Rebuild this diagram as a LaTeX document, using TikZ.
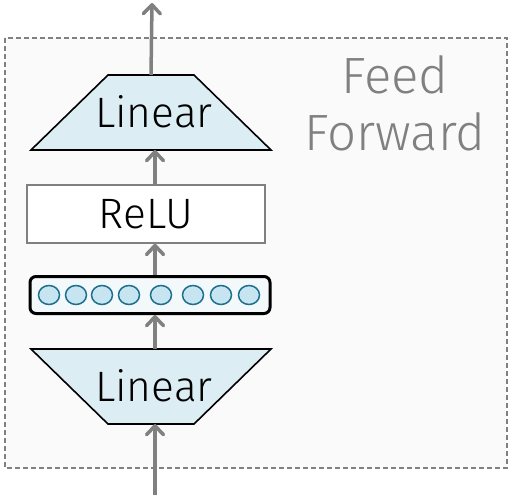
\documentclass[tikz,border=0pt]{standalone}
\usepackage{fontspec}
\setmainfont{Fira Sans}[UprightFont={* Light}]
\usetikzlibrary{arrows.meta,shapes.geometric}
\definecolor{bgc}{HTML}{FAFAFA}
\definecolor{grayc}{HTML}{808080}
\definecolor{trapc}{HTML}{DCEDF4}
\definecolor{circf}{HTML}{C6E5F0}
\definecolor{circd}{HTML}{1E6E8E}
\definecolor{vecf}{HTML}{F3F9FB}
\tikzset{
  trapline/.style={draw=black, line width=1.6pt, fill=trapc, line join=miter},
  lbl/.style={font=\fontsize{42.5}{46}\selectfont, inner sep=0pt},
  arr/.style={draw=grayc, line width=3.5pt, -{Straight Barb[length=9pt,width=17pt,line cap=round,line join=round]}},
  cir/.style={ellipse, minimum width=21pt, minimum height=19pt, inner sep=0pt, draw=circd, line width=1.5pt, fill=circf},
}
\begin{document}
\begin{tikzpicture}[x=1pt,y=-1pt]
\useasboundingbox (0,0) rectangle (513,498);
\draw[grayc, dash pattern=on 5pt off 3pt, line width=1.3pt, fill=bgc] (5,38) rectangle (507,468);
\node[text=grayc, align=center, font=\fontsize{51}{57}\selectfont, inner sep=0pt] (ff) at (395,103) {Feed\\Forward};
% top linear
\coordinate (t2) at (151,75);
\coordinate (b2) at (155,150);
\draw[trapline] (108,75) -- (194,75) -- (271,150) -- (31,150) -- cycle;
\node[lbl] (lin2) at (154,112) {Linear};
% relu
\node[draw=grayc, line width=1.6pt, fill=white, minimum width=238pt, minimum height=58pt, inner sep=0pt, font=\fontsize{42.5}{46}\selectfont] (relu) at (146,214) {ReLU};
% vector
\node[draw=black, line width=3pt, rounded corners=6pt, fill=vecf, minimum width=240pt, minimum height=37pt, inner sep=0pt] (vec) at (150,295) {};
\foreach \i/\x in {1/49,2/76,3/102,4/129,5/161,6/193,7/221,8/249}{
  \node[cir] (c\i) at (\x,295) {};
}
% bottom linear
\coordinate (t1) at (155,349);
\coordinate (b1) at (155,424);
\draw[trapline] (31,349) -- (271,349) -- (194,424) -- (108,424) -- cycle;
\node[lbl] (lin1) at (154,386) {Linear};
\coordinate (in) at (155,495);
\coordinate (out) at (152,3);
\draw[arr] (in) -- (b1);
\draw[arr] (t1) -- (t1 |- vec.south);
\draw[arr] (vec.north -| t1) -- (t1 |- relu.south);
\draw[arr] (relu.north -| t1) -- (b2);
\draw[arr] (t2) -- (out);
\end{tikzpicture}
\end{document}
